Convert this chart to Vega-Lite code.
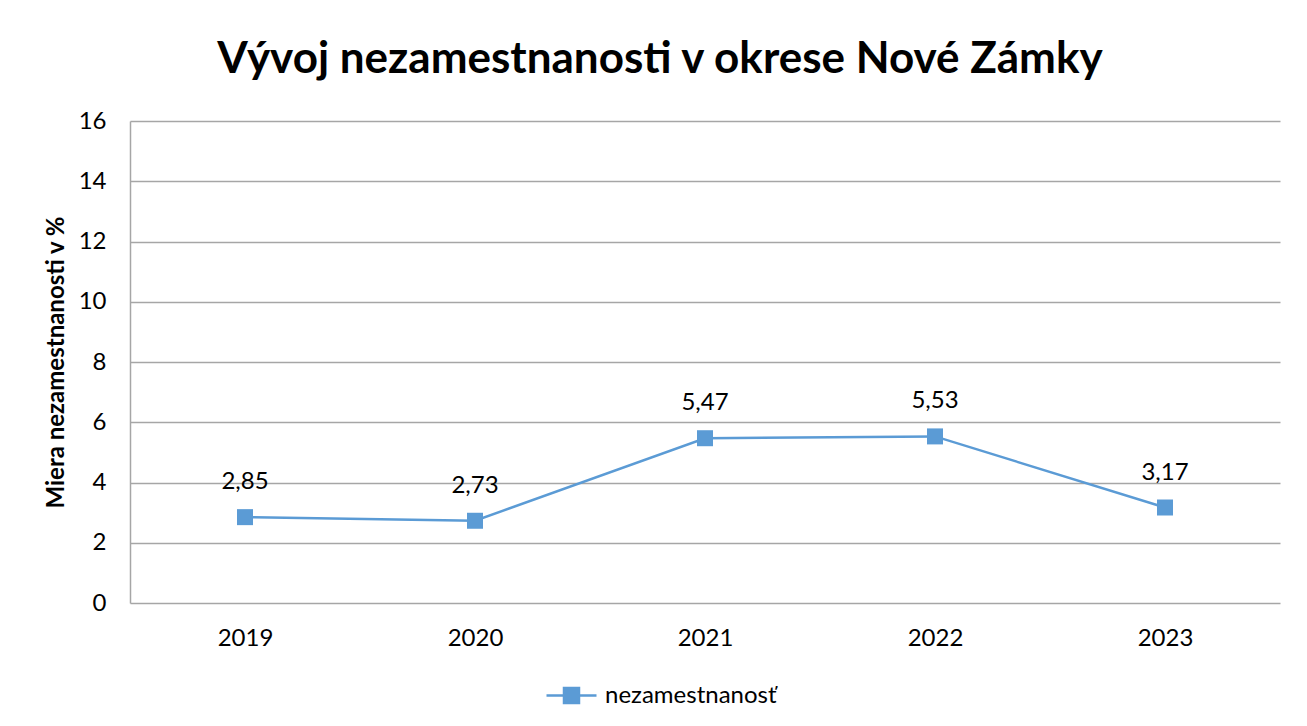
{
  "$schema": "https://vega.github.io/schema/vega-lite/v6.json",
  "width": 1150,
  "height": 482,
  "autosize": "none",
  "padding": {"left": 130, "top": 121, "right": 27, "bottom": 123},
  "background": "white",
  "config": {
    "font": "Lato",
    "view": {"stroke": null},
    "locale": {"number": {"decimal": ",", "thousands": " ", "grouping": [3], "currency": ["", " €"]}}
  },
  "title": {
    "text": "Vývoj nezamestnanosti v okrese Nové Zámky",
    "font": "Lato",
    "fontSize": 44,
    "fontWeight": "bold",
    "color": "#000000",
    "anchor": "middle",
    "frame": "group",
    "dx": -45,
    "offset": 27
  },
  "data": {
    "values": [
      {"rok": "2019", "miera": 2.85, "seria": "nezamestnanosť"},
      {"rok": "2020", "miera": 2.73, "seria": "nezamestnanosť"},
      {"rok": "2021", "miera": 5.47, "seria": "nezamestnanosť"},
      {"rok": "2022", "miera": 5.53, "seria": "nezamestnanosť"},
      {"rok": "2023", "miera": 3.17, "seria": "nezamestnanosť"}
    ]
  },
  "encoding": {
    "x": {
      "field": "rok",
      "type": "ordinal",
      "scale": {"type": "point", "padding": 0.5},
      "axis": {
        "title": null,
        "labelAngle": 0,
        "labelFont": "Lato",
        "labelFontSize": 24,
        "labelColor": "#000000",
        "labelPadding": 23,
        "ticks": false,
        "domain": false,
        "grid": false
      }
    },
    "y": {
      "field": "miera",
      "type": "quantitative",
      "scale": {"domain": [0, 16], "nice": false},
      "axis": {
        "values": [0, 2, 4, 6, 8, 10, 12, 14, 16],
        "title": "Miera nezamestnanosti v %",
        "titleFont": "Lato",
        "titleFontSize": 24,
        "titleFontWeight": "bold",
        "titleColor": "#000000",
        "titlePadding": 10,
        "labelFont": "Lato",
        "labelFontSize": 24,
        "labelColor": "#000000",
        "labelPadding": 24,
        "ticks": false,
        "domain": true,
        "domainColor": "#A6A6A6",
        "domainWidth": 1.5,
        "grid": true,
        "gridColor": "#A6A6A6",
        "gridWidth": 1.5
      }
    }
  },
  "layer": [
    {
      "mark": {"type": "line", "strokeWidth": 2.5},
      "encoding": {
        "color": {
          "field": "seria",
          "type": "nominal",
          "scale": {"range": ["#5B9BD5"]},
          "legend": {
            "title": null,
            "orient": "none",
            "legendX": 415,
            "legendY": 548,
            "symbolType": "M-1,0H-0.3M0.3,0H1M-0.3,-0.3H0.3V0.3H-0.3Z",
            "symbolSize": 2500,
            "symbolStrokeWidth": 2.5,
            "symbolFillColor": "#5B9BD5",
            "symbolStrokeColor": "#5B9BD5",
            "labelFont": "Lato",
            "labelFontSize": 24,
            "labelColor": "#000000",
            "labelOffset": 7,
            "labelLimit": 400
          }
        }
      }
    },
    {
      "mark": {"type": "point", "shape": "square", "size": 256, "filled": true, "opacity": 1, "color": "#5B9BD5"}
    },
    {
      "mark": {"type": "text", "dy": -35, "fontSize": 24, "font": "Lato", "color": "#000000"},
      "encoding": {
        "text": {"field": "miera", "type": "quantitative", "format": ".2f"}
      }
    }
  ]
}
